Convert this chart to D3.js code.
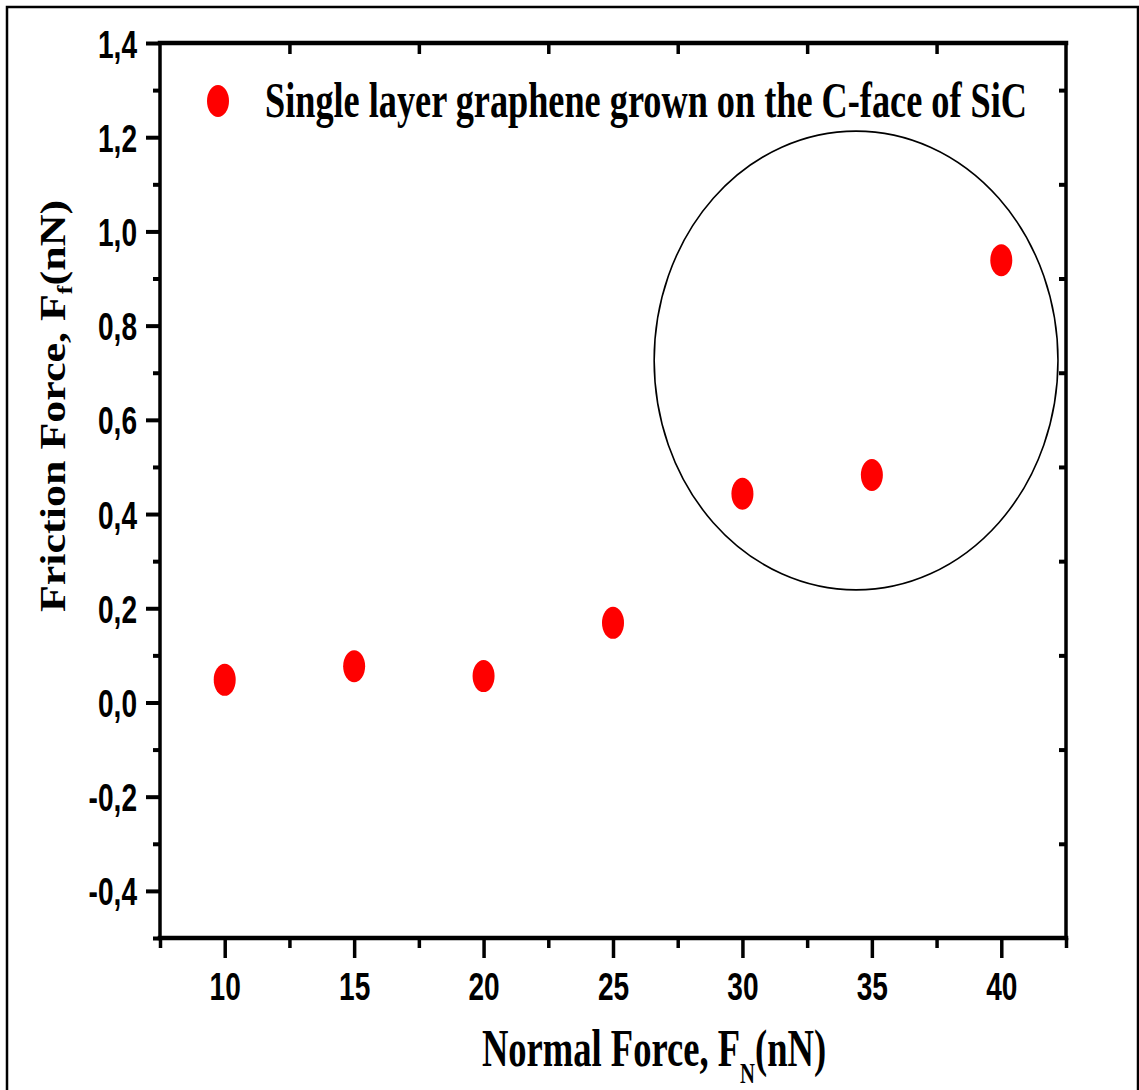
<!DOCTYPE html>
<html>
<head>
<meta charset="utf-8">
<script src="https://cdn.jsdelivr.net/npm/d3@7"></script>
<style>
  body { margin: 0; background: #fff; }
  svg { display: block; }
  .tick line { stroke: #000; }
</style>
</head>
<body>
<div id="chart"></div>
<script>
// data
var normalForce = [10, 15, 20, 25, 30, 35, 40];
var frictionForce = [0.048, 0.077, 0.056, 0.169, 0.443, 0.483, 0.939];
var seriesName = "Single layer graphene grown on the C-face of SiC";

var xMajor = [10, 15, 20, 25, 30, 35, 40];
var xMinor = [7.5, 12.5, 17.5, 22.5, 27.5, 32.5, 37.5, 42.5];
var yMajor = [-0.4, -0.2, 0, 0.2, 0.4, 0.6, 0.8, 1.0, 1.2, 1.4];
var yMinor = [-0.5, -0.3, -0.1, 0.1, 0.3, 0.5, 0.7, 0.9, 1.1, 1.3];

// highlighted cluster (centre x, centre y, radius x, radius y) in data units
var circleMark = [34.39, 0.726, 7.80, 0.487];

var width = 1139, height = 1090;
var plotLeft = 160, plotRight = 1066, plotTop = 43, plotBottom = 938;
var squeeze = 0.72; // the picture is narrowed horizontally

var svg = d3.select("#chart").append("svg")
    .attr("width", width)
    .attr("height", height);

svg.append("rect")
    .attr("x", 0).attr("y", 0)
    .attr("width", width).attr("height", height)
    .attr("fill", "#fff");

// outer frame
svg.append("rect")
    .attr("x", 7).attr("y", 7)
    .attr("width", 1131).attr("height", 1120)
    .attr("fill", "none")
    .attr("stroke", "#000")
    .attr("stroke-width", 2.5);

var x = d3.scaleLinear().domain([7.5, 42.5]).range([plotLeft, plotRight]);
var y = d3.scaleLinear().domain([-0.5, 1.4]).range([plotBottom, plotTop]);

var fmt = function(d) { return d3.format(".1f")(d).replace(".", ",").replace("−", "-"); };

function narrow(sel) {
  sel.each(function() {
    var w = this.getComputedTextLength();
    d3.select(this).attr("textLength", w * squeeze).attr("lengthAdjust", "spacingAndGlyphs");
  });
}

function styleAxis(g, w) {
  g.select(".domain").remove();
  g.selectAll(".tick line").attr("stroke-width", w);
  g.selectAll(".tick text")
    .attr("fill", "#000")
    .style("font-family", "'Liberation Sans', Arial, sans-serif")
    .style("font-weight", "bold")
    .style("font-size", "39px");
}

// left axis
svg.append("g")
    .attr("transform", "translate(" + plotLeft + ",0)")
    .call(d3.axisLeft(y).tickValues(yMajor).tickSize(14).tickPadding(9).tickFormat(fmt))
    .call(styleAxis, 4)
    .call(function(g) { g.selectAll(".tick text").attr("dy", "0.36em").call(narrow); });

svg.append("g")
    .attr("transform", "translate(" + plotLeft + ",0)")
    .call(d3.axisLeft(y).tickValues(yMinor).tickSize(7).tickFormat(""))
    .call(styleAxis, 4);

// bottom axis
svg.append("g")
    .attr("transform", "translate(0," + plotBottom + ")")
    .call(d3.axisBottom(x).tickValues(xMajor).tickSize(20).tickPadding(14).tickFormat(d3.format("d")))
    .call(styleAxis, 3.5)
    .call(function(g) { g.selectAll(".tick text").call(narrow); });

svg.append("g")
    .attr("transform", "translate(0," + plotBottom + ")")
    .call(d3.axisBottom(x).tickValues(xMinor).tickSize(10).tickFormat(""))
    .call(styleAxis, 3.5);

// top and right: inward ticks
svg.append("g")
    .attr("transform", "translate(0," + plotTop + ")")
    .call(d3.axisBottom(x).tickValues(xMinor.slice(1, -1)).tickSize(11).tickFormat(""))
    .call(styleAxis, 3.5);

svg.append("g")
    .attr("transform", "translate(" + plotRight + ",0)")
    .call(d3.axisLeft(y).tickValues(yMinor.slice(1)).tickSize(7).tickFormat(""))
    .call(styleAxis, 4);

// axis frame lines
var frame = svg.append("g").attr("stroke", "#000").attr("stroke-linecap", "square");
frame.append("line").attr("x1", plotLeft).attr("x2", plotRight).attr("y1", plotTop).attr("y2", plotTop).attr("stroke-width", 4.5);
frame.append("line").attr("x1", plotLeft).attr("x2", plotRight).attr("y1", plotBottom).attr("y2", plotBottom).attr("stroke-width", 4.5);
frame.append("line").attr("x1", plotLeft).attr("x2", plotLeft).attr("y1", plotTop).attr("y2", plotBottom).attr("stroke-width", 3.5);
frame.append("line").attr("x1", plotRight).attr("x2", plotRight).attr("y1", plotTop).attr("y2", plotBottom).attr("stroke-width", 3.5);

// ellipse around the last three points
svg.append("ellipse")
    .attr("cx", x(circleMark[0]))
    .attr("cy", y(circleMark[1]))
    .attr("rx", x(circleMark[0] + circleMark[2]) - x(circleMark[0]))
    .attr("ry", y(circleMark[1]) - y(circleMark[1] + circleMark[3]))
    .attr("fill", "none")
    .attr("stroke", "#000")
    .attr("stroke-width", 1.6);

// points
svg.append("g").selectAll("ellipse")
    .data(normalForce)
    .enter()
    .append("ellipse")
    .attr("cx", function(d) { return x(d); })
    .attr("cy", function(d, i) { return y(frictionForce[i]); })
    .attr("rx", 11)
    .attr("ry", 16)
    .attr("fill", "#ff0000");

// legend
svg.append("ellipse")
    .attr("cx", 218).attr("cy", 101)
    .attr("rx", 11).attr("ry", 16)
    .attr("fill", "#ff0000");

svg.append("text")
    .attr("x", 265).attr("y", 117)
    .attr("fill", "#000")
    .style("font-family", "'Liberation Serif', 'Times New Roman', serif")
    .style("font-weight", "bold")
    .style("font-size", "51px")
    .attr("textLength", 762)
    .attr("lengthAdjust", "spacingAndGlyphs")
    .text(seriesName);

// x title
var xt = svg.append("g")
    .attr("transform", "translate(654,1066) scale(0.69,1)")
    .append("text")
    .attr("text-anchor", "middle")
    .attr("fill", "#000")
    .style("font-family", "'Liberation Serif', 'Times New Roman', serif")
    .style("font-weight", "bold")
    .style("font-size", "53px");
xt.append("tspan").text("Normal Force, F");
xt.append("tspan").attr("dy", 17).style("font-size", "30px").text("N");
xt.append("tspan").attr("dy", -17).text("(nN)");

// y title
var yt = svg.append("g")
    .attr("transform", "translate(65,406) scale(0.8,1) rotate(-90)")
    .append("text")
    .attr("text-anchor", "middle")
    .attr("fill", "#000")
    .style("font-family", "'Liberation Serif', 'Times New Roman', serif")
    .style("font-weight", "bold")
    .style("font-size", "44px");
yt.append("tspan").text("Friction Force, F");
yt.append("tspan").attr("dy", 9).style("font-size", "26px").text("f");
yt.append("tspan").attr("dy", -9).text("(nN)");
</script>
</body>
</html>
